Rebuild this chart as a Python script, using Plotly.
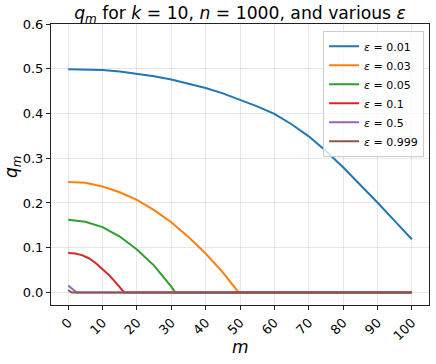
import plotly.graph_objects as go

# ── Data ──────────────────────────────────────────────────────────────────────

eps_labels = ["0.01", "0.03", "0.05", "0.1", "0.5", "0.999"]

m_eps001 = [0, 5, 10, 15, 20, 25, 30, 35, 40, 45, 50, 55, 60, 65, 70, 75, 80, 85, 90, 95, 100]
q_eps001 = [0.499, 0.4985, 0.497, 0.494, 0.489, 0.483, 0.476, 0.467, 0.457, 0.445, 0.431,
            0.416, 0.399, 0.376, 0.349, 0.316, 0.280, 0.241, 0.201, 0.160, 0.119]

m_eps003 = [0, 5, 10, 15, 20, 25, 30, 35, 40, 45, 49.6, 100]
q_eps003 = [0.247, 0.245, 0.237, 0.224, 0.207, 0.184, 0.157, 0.124, 0.087, 0.045, 0.0, 0.0]

m_eps005 = [0, 5, 10, 15, 20, 25, 30, 31.2, 100]
q_eps005 = [0.1626, 0.158, 0.146, 0.125, 0.096, 0.060, 0.013, 0.0, 0.0]

m_eps01 = [0, 2, 4, 6, 8, 10, 12, 14, 16.3, 100]
q_eps01 = [0.088, 0.087, 0.0835, 0.0765, 0.066, 0.053, 0.038, 0.021, 0.0, 0.0]

m_eps05 = [0, 1, 2.5, 100]
q_eps05 = [0.0157, 0.010, 0.0, 0.0]

m_eps0999 = [0, 1, 100]
q_eps0999 = [0.0055, 0.0, 0.0]

series_m = [m_eps001, m_eps003, m_eps005, m_eps01, m_eps05, m_eps0999]
series_q = [q_eps001, q_eps003, q_eps005, q_eps01, q_eps05, q_eps0999]

x_ticks = list(range(0, 101, 10))
y_ticks = [0.0, 0.1, 0.2, 0.3, 0.4, 0.5, 0.6]

# ── Styling ───────────────────────────────────────────────────────────────────

_COLORS = ["#1f77b4", "#ff7f0e", "#2ca02c", "#d62728", "#9467bd", "#8c564b"]
_FONT = "DejaVu Sans, sans-serif"
_GRID = "rgba(176,176,176,0.3)"

W, H = 436, 364
L, R, T, B = 51, 7, 24, 59
plot_h = H - T - B
plot_w = W - L - R

fig = go.Figure()
for lbl, mx, qy, col in zip(eps_labels, series_m, series_q, _COLORS):
    fig.add_trace(
        go.Scatter(
            x=mx,
            y=qy,
            mode="lines",
            name=f"<i>ε</i> = {lbl}",
            line=dict(color=col, width=2),
        )
    )

axis_common = dict(
    showline=True,
    linecolor="#222222",
    linewidth=1,
    mirror=True,
    ticks="outside",
    ticklen=4,
    tickwidth=1,
    tickcolor="#222222",
    showgrid=True,
    gridcolor=_GRID,
    gridwidth=1,
    zeroline=False,
    automargin=False,
    tickfont=dict(family=_FONT, size=13, color="black"),
)

fig.update_layout(
    width=W,
    height=H,
    paper_bgcolor="white",
    plot_bgcolor="white",
    font=dict(family=_FONT, color="black"),
    margin=dict(l=L, r=R, t=T, b=B),
    title=dict(
        text="<i>q</i><sub><i>m</i></sub> for <i>k</i> = 10, <i>n</i> = 1000, and various <i>ε</i>",
        x=0.5,
        xref="paper",
        xanchor="center",
        y=1 - 13 / H,
        yref="container",
        yanchor="middle",
        font=dict(family=_FONT, size=17.2, color="black"),
    ),
    xaxis=dict(
        axis_common,
        range=[-5, 105],
        tickvals=x_ticks,
        tickangle=-45,
    ),
    yaxis=dict(
        axis_common,
        range=[-0.028, 0.6],
        tickvals=y_ticks,
        tickformat=".1f",
    ),
    legend=dict(
        x=0.987,
        y=0.976,
        xanchor="right",
        yanchor="top",
        bgcolor="rgba(255,255,255,0.8)",
        bordercolor="#cccccc",
        borderwidth=1,
        font=dict(family=_FONT, size=11, color="black"),
        itemwidth=30,
    ),
    annotations=[
        dict(
            text="<i>m</i>",
            xref="paper", yref="paper",
            x=(240 - L) / plot_w, y=-(347 - (H - B)) / plot_h,
            xanchor="center", yanchor="middle",
            showarrow=False,
            font=dict(family=_FONT, size=17, color="black"),
        ),
        dict(
            text="<i>q</i><sub><i>m</i></sub>",
            xref="paper", yref="paper",
            x=(12 - L) / plot_w, y=((H - B) - 167) / plot_h,
            xanchor="center", yanchor="middle",
            textangle=-90,
            showarrow=False,
            font=dict(family=_FONT, size=17, color="black"),
        ),
    ],
)

# drop the page's default body margin so the figure sits at the window origin
fig.write_html(
    "out.html",
    config={"displayModeBar": False},
    post_script="document.body.style.margin='0';",
)
